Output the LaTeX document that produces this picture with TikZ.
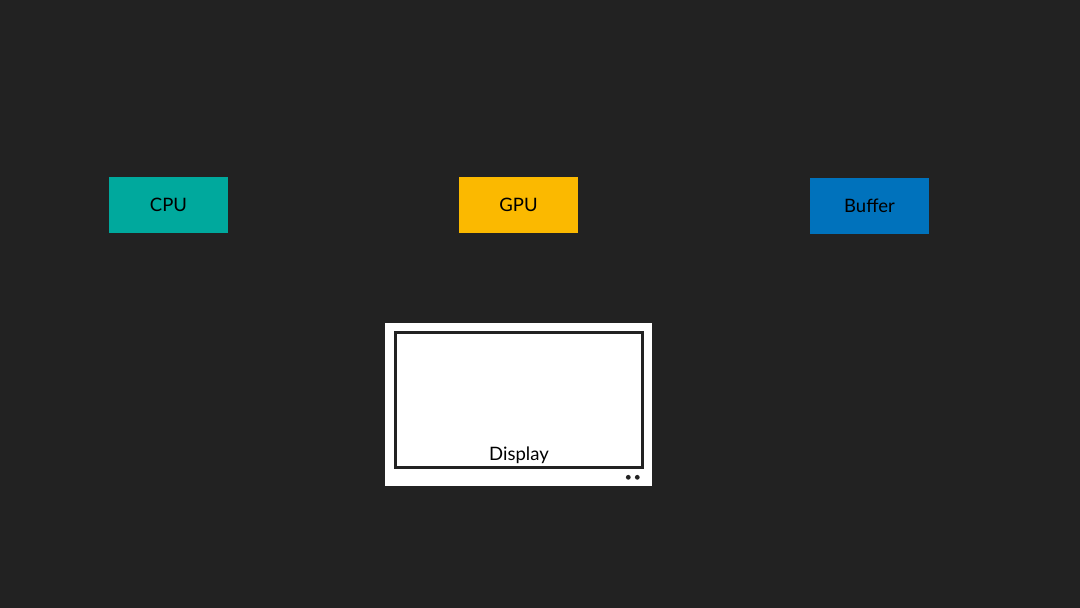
\documentclass[tikz,border=0pt]{standalone}
\usepackage{fontspec}
\setmainfont{Lato}
\definecolor{bg}{HTML}{222222}
\definecolor{cpuc}{HTML}{00A99D}
\definecolor{gpuc}{HTML}{FBB900}
\definecolor{bufc}{HTML}{0072BC}
\begin{document}
\begin{tikzpicture}[x=1pt,y=-1pt,
  unit/.style={minimum width=119pt,minimum height=56pt,inner sep=0pt,font=\fontsize{18.5}{22}\selectfont,text=black}]
\fill[bg] (0,0) rectangle (1080,608);
\useasboundingbox (0,0) rectangle (1080,608);
\node[unit,fill=cpuc] (cpu) at (168.5,205) {CPU};
\node[unit,fill=gpuc] (gpu) at (518.5,205) {GPU};
\node[unit,fill=bufc] (buf) at (869.5,205.5) {Buffer};
\node[fill=white,minimum width=267pt,minimum height=163pt,inner sep=0pt] (disp) at (518.5,404.5) {};
\node[draw=bg,line width=3.4pt,fill=white,minimum width=247pt,minimum height=134.5pt,inner sep=0pt] (screen) at (519,400) {};
\node[font=\fontsize{18.5}{22}\selectfont,text=black,anchor=base,inner sep=0pt] (lbl) at (519,460.5) {Display};
\fill[bg] (628.3,477.3) circle (2.4pt) coordinate (d1);
\fill[bg] (637.3,477.3) circle (2.4pt) coordinate (d2);
\end{tikzpicture}
\end{document}
